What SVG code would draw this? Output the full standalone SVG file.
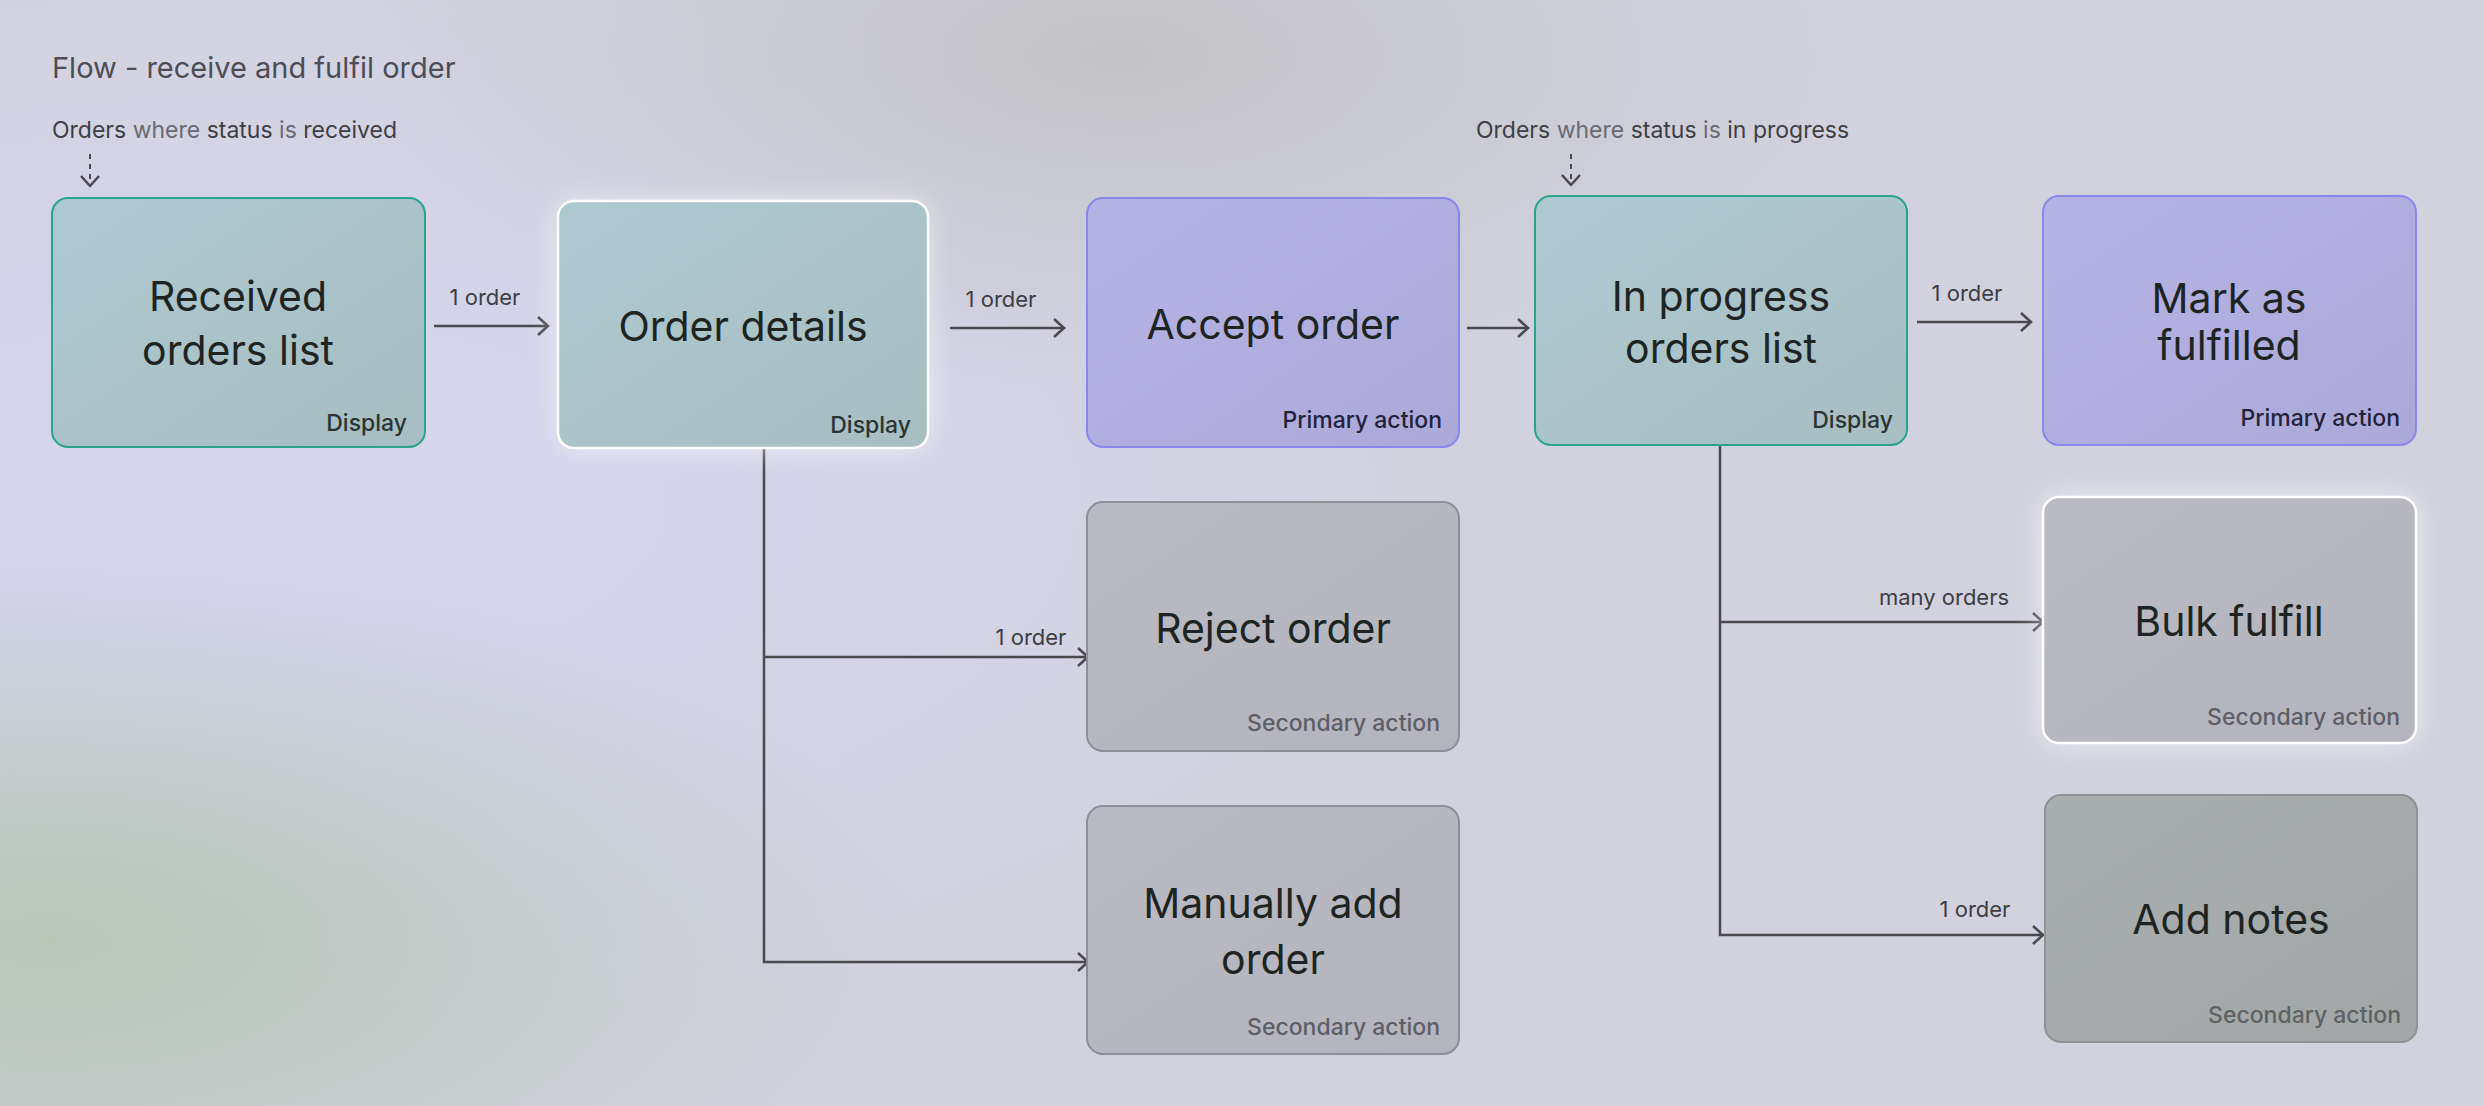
<svg xmlns="http://www.w3.org/2000/svg" width="2484" height="1106" viewBox="0 0 2484 1106">
<defs>
<radialGradient id="bg1" cx="0.1" cy="0.45" r="0.5"><stop offset="0" stop-color="#d6d6f0"/><stop offset="1" stop-color="#d6d6f0" stop-opacity="0"/></radialGradient>
<radialGradient id="bg2" cx="0.02" cy="0.85" r="0.35"><stop offset="0" stop-color="#b8c6b8"/><stop offset="1" stop-color="#b8c6b8" stop-opacity="0"/></radialGradient>
<radialGradient id="bg3" cx="0.45" cy="0.05" r="0.3"><stop offset="0" stop-color="#c4c4c8"/><stop offset="1" stop-color="#c4c4c8" stop-opacity="0"/></radialGradient>
<linearGradient id="teal" x1="0" y1="0" x2="1" y2="1"><stop offset="0" stop-color="#adc9d0"/><stop offset="1" stop-color="#a7bec2"/></linearGradient>
<linearGradient id="purple" x1="0" y1="0" x2="1" y2="1"><stop offset="0" stop-color="#b6b4e6"/><stop offset="1" stop-color="#aca9d8"/></linearGradient>
<linearGradient id="grey" x1="0" y1="0" x2="1" y2="1"><stop offset="0" stop-color="#b9bac2"/><stop offset="1" stop-color="#b4b4bc"/></linearGradient>
<linearGradient id="dark" x1="0" y1="0" x2="1" y2="1"><stop offset="0" stop-color="#a9aeae"/><stop offset="1" stop-color="#a2a6a6"/></linearGradient>
<filter id="glow" x="-20%" y="-20%" width="140%" height="140%"><feGaussianBlur stdDeviation="14"/></filter>
<marker id="ah" markerWidth="14" markerHeight="20" refX="12" refY="10" orient="auto" markerUnits="userSpaceOnUse"><path d="M2,1 L12,10 L2,19" fill="none" stroke="#4a4a4e" stroke-width="2.5"/></marker>
</defs>
<style>
text{font-family:Inter,"Noto Sans",sans-serif}
.title{font-size:29px;fill:#4d4d55}
.q{font-size:23px;fill:#3e3e44}
.ql{fill:#6a6a72}
.lbl{font-size:22px;fill:#3e3e44;text-anchor:middle}
.main{font-size:41px;fill:#1e2422;text-anchor:middle}
.sub{font-size:23px;font-weight:500;text-anchor:end}
.c{fill:none;stroke:#4a4a4e;stroke-width:2.5}
.d{fill:none;stroke:#4a4a4e;stroke-width:2;stroke-dasharray:5,5}
</style>
<rect width="2484" height="1106" fill="#d2d2de"/>
<rect width="2484" height="1106" fill="url(#bg1)"/>
<rect width="2484" height="1106" fill="url(#bg2)"/>
<rect width="2484" height="1106" fill="url(#bg3)"/>
<text class="title" x="52" y="78">Flow - receive and fulfil order</text>
<text class="q" x="52" y="138">Orders <tspan class="ql">where</tspan> status <tspan class="ql">is</tspan> received</text>
<text class="q" x="1476" y="138">Orders <tspan class="ql">where</tspan> status <tspan class="ql">is</tspan> in progress</text>
<g id="connectors">
<path class="d" d="M90,154 V186" marker-end="url(#ah)"/>
<path class="d" d="M1571,154 V185" marker-end="url(#ah)"/>
<path class="c" d="M434,326 H548" marker-end="url(#ah)"/>
<text class="lbl" x="485" y="305">1 order</text>
<path class="c" d="M950,328 H1064" marker-end="url(#ah)"/>
<text class="lbl" x="1001" y="307">1 order</text>
<path class="c" d="M1467,328 H1528" marker-end="url(#ah)"/>
<path class="c" d="M1917,322 H2031" marker-end="url(#ah)"/>
<text class="lbl" x="1967" y="301">1 order</text>
<path class="c" d="M764,448 V962 H1088" marker-end="url(#ah)"/>
<path class="c" d="M764,657 H1088" marker-end="url(#ah)"/>
<text class="lbl" x="1031" y="645">1 order</text>
<path class="c" d="M1720,445 V935 H2043" marker-end="url(#ah)"/>
<path class="c" d="M1720,622 H2043" marker-end="url(#ah)"/>
<text class="lbl" x="1944" y="605">many orders</text>
<text class="lbl" x="1975" y="917">1 order</text>
</g>
<g id="received">
<rect x="52" y="198" width="373" height="249" rx="16" fill="url(#teal)" stroke="#2aa58a" stroke-width="2"/>
<text class="main" x="238" y="311">Received</text><text class="main" x="238" y="365">orders list</text>
<text class="sub" x="407" y="431" fill="#2a3432">Display</text>
</g>
<g id="order-details">
<rect x="558" y="201" width="370" height="247" rx="16" fill="#ffffff" opacity="0.6" filter="url(#glow)"/>
<rect x="558" y="201" width="370" height="247" rx="16" fill="url(#teal)" stroke="#ffffff" stroke-width="2.5"/>
<text class="main" x="743" y="341">Order details</text>
<text class="sub" x="911" y="433" fill="#2a3432">Display</text>
</g>
<g id="accept">
<rect x="1087" y="198" width="372" height="249" rx="16" fill="url(#purple)" stroke="#8a87ec" stroke-width="2"/>
<text class="main" x="1273" y="339">Accept order</text>
<text class="sub" x="1442" y="428" fill="#22223a">Primary action</text>
</g>
<g id="in-progress">
<rect x="1535" y="196" width="372" height="249" rx="16" fill="url(#teal)" stroke="#2aa58a" stroke-width="2"/>
<text class="main" x="1721" y="311">In progress</text><text class="main" x="1721" y="363">orders list</text>
<text class="sub" x="1893" y="428" fill="#2a3432">Display</text>
</g>
<g id="mark-fulfilled">
<rect x="2043" y="196" width="373" height="249" rx="16" fill="url(#purple)" stroke="#8a87ec" stroke-width="2"/>
<text class="main" x="2229" y="313">Mark as</text><text class="main" x="2229" y="360">fulfilled</text>
<text class="sub" x="2400" y="426" fill="#22223a">Primary action</text>
</g>
<g id="reject">
<rect x="1087" y="502" width="372" height="249" rx="16" fill="url(#grey)" stroke="#8e8e98" stroke-width="2"/>
<text class="main" x="1273" y="643">Reject order</text>
<text class="sub" x="1440" y="731" fill="#5e5e66">Secondary action</text>
</g>
<g id="manually-add">
<rect x="1087" y="806" width="372" height="248" rx="16" fill="url(#grey)" stroke="#8e8e98" stroke-width="2"/>
<text class="main" x="1273" y="918">Manually add</text><text class="main" x="1273" y="974">order</text>
<text class="sub" x="1440" y="1035" fill="#5e5e66">Secondary action</text>
</g>
<g id="bulk-fulfill">
<rect x="2043" y="497" width="373" height="246" rx="16" fill="#ffffff" opacity="0.6" filter="url(#glow)"/>
<rect x="2043" y="497" width="373" height="246" rx="16" fill="url(#grey)" stroke="#ffffff" stroke-width="2.5"/>
<text class="main" x="2229" y="636">Bulk fulfill</text>
<text class="sub" x="2400" y="725" fill="#5e5e66">Secondary action</text>
</g>
<g id="add-notes">
<rect x="2045" y="795" width="372" height="247" rx="16" fill="url(#dark)" stroke="#8e9292" stroke-width="2"/>
<text class="main" x="2231" y="934">Add notes</text>
<text class="sub" x="2401" y="1023" fill="#5e6262">Secondary action</text>
</g>
</svg>
